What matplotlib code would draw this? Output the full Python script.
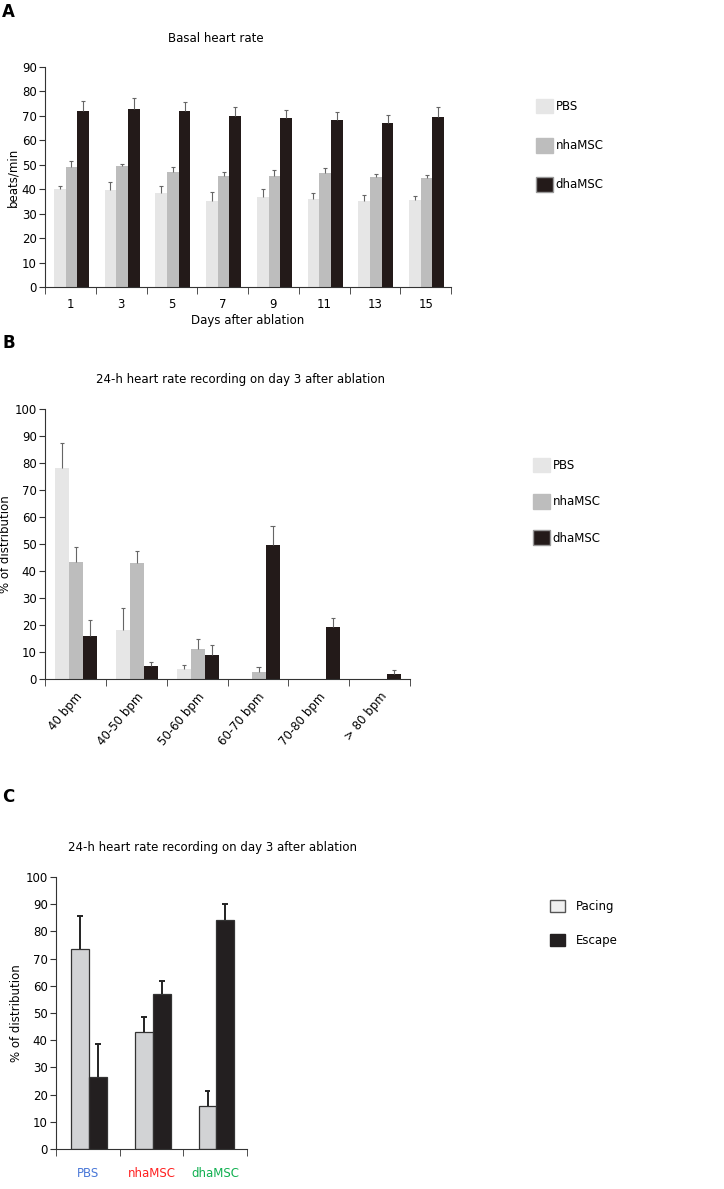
import numpy as np
import matplotlib
matplotlib.use("Agg")
import matplotlib.pyplot as plt
from matplotlib.patches import Patch

plt.rcParams['font.family'] = ['DejaVu Sans']
plt.rcParams['font.size'] = 8

# ---- data ----
days = ['1', '3', '5', '7', '9', '11', '13', '15']
a_pbs = [40, 39.7, 38.3, 35.2, 37, 35.8, 35.3, 35.5]
a_pbs_err = [1.5, 3.3, 3.2, 3.5, 3.0, 2.7, 2.5, 1.7]
a_nha = [49, 49.3, 47.2, 45.4, 45.5, 46.5, 44.8, 44.4]
a_nha_err = [2.7, 1.2, 1.8, 1.6, 2.3, 2.0, 1.6, 1.4]
a_dha = [72.2, 72.7, 72.1, 70, 69.2, 68.3, 67, 69.5]
a_dha_err = [3.8, 4.6, 3.6, 3.8, 3.4, 3.2, 3.3, 4.1]

bins = ['40 bpm', '40-50 bpm', '50-60 bpm', '60-70 bpm', '70-80 bpm', '> 80 bpm']
b_pbs = [78.1, 18.3, 3.7, 0, 0, 0]
b_pbs_err = [9.3, 8.0, 1.6, 0, 0, 0]
b_nha = [43.3, 43.0, 11.2, 2.6, 0, 0]
b_nha_err = [5.6, 4.4, 3.6, 1.8, 0, 0]
b_dha = [15.8, 4.7, 8.8, 49.5, 19.3, 1.9]
b_dha_err = [5.9, 1.6, 3.8, 7.0, 3.4, 1.3]

groups = ['PBS', 'nhaMSC', 'dhaMSC']
group_colors = ['#4a78d8', '#ff2020', '#10b050']
c_pacing = [73.4, 43.1, 15.7]
c_pacing_err = [12.4, 5.3, 5.7]
c_escape = [26.5, 56.9, 84.3]
c_escape_err = [12.2, 4.9, 5.7]

col_pbs = '#e6e6e6'
col_nha = '#bdbdbd'
col_dha = '#231a19'

W, H = 724, 1189
fig = plt.figure(figsize=(W / 100, H / 100), dpi=100)


def px_axes(x1, y1, x2, y2):
    return fig.add_axes([x1 / W, 1 - y2 / H, (x2 - x1) / W, (y2 - y1) / H])


def style_axes(ax, n, ymax, step):
    for s in ['top', 'right']:
        ax.spines[s].set_visible(False)
    for s in ['left', 'bottom']:
        ax.spines[s].set_color('#333333')
        ax.spines[s].set_linewidth(0.8)
    ax.set_xlim(-0.5, n - 0.5)
    ax.set_ylim(0, ymax)
    ax.set_yticks(np.arange(0, ymax + 1, step))
    ax.set_xticks(np.arange(n))
    ax.set_xticks(np.arange(n + 1) - 0.5, minor=True)
    ax.tick_params(axis='x', which='major', length=0, pad=8, labelsize=8.5)
    ax.tick_params(axis='x', which='minor', length=5, color='#333333', direction='out')
    ax.tick_params(axis='y', length=4, color='#333333', labelsize=8.5, pad=2)


def up_errors(ax, xs, vals, errs, color, lw, capw):
    # only the upper half of each error bar, like the original figure
    xs = np.asarray(xs, dtype=float)
    vals = np.asarray(vals, dtype=float)
    errs = np.asarray(errs, dtype=float)
    m = errs > 0
    ax.vlines(xs[m], vals[m], vals[m] + errs[m], color=color, lw=lw, zorder=3)
    ax.hlines(vals[m] + errs[m], xs[m] - capw, xs[m] + capw, color=color, lw=lw, zorder=3)


def legend_at(ax, handles, x, y, spacing):
    ax.legend(handles=handles, loc='upper left', bbox_to_anchor=(x / W, 1 - y / H),
              bbox_transform=fig.transFigure, frameon=False, borderpad=0,
              handlelength=1.45, handleheight=1.5, handletextpad=0.2,
              labelspacing=spacing, fontsize=8.5, borderaxespad=0)


# ---- panel A ----
axA = px_axes(45, 67, 451, 287)
x = np.arange(len(days))
w = 0.23
for off, vals, err, col in [(-w, a_pbs, a_pbs_err, col_pbs), (0, a_nha, a_nha_err, col_nha),
                            (w, a_dha, a_dha_err, col_dha)]:
    axA.bar(x + off + 0.02, vals, w, color=col)
    up_errors(axA, x + off + 0.02, vals, err, '#666666', 0.8, 0.04)
style_axes(axA, len(days), 90, 10)
axA.set_xticklabels(days)
axA.set_xlabel('Days after ablation', fontsize=8.5, labelpad=2)
axA.set_ylabel('beats/min', fontsize=8.5, labelpad=2)
axA.set_title('Basal heart rate', fontsize=8.5, pad=18, x=0.42)
fig.text(2 / W, 1 - 12 / H, 'A', fontsize=12, fontweight='bold', va='center')
legend_at(axA, [Patch(color=col_pbs, label='PBS'), Patch(color=col_nha, label='nhaMSC'),
                Patch(facecolor=col_dha, edgecolor='#999999', label='dhaMSC')],
          536, 99, 2.1)

# ---- panel B ----
axB = px_axes(45, 409, 410, 679)
x = np.arange(len(bins))
for off, vals, err, col in [(-w, b_pbs, b_pbs_err, col_pbs), (0, b_nha, b_nha_err, col_nha),
                            (w, b_dha, b_dha_err, col_dha)]:
    axB.bar(x + off + 0.01, vals, w, color=col)
    up_errors(axB, x + off + 0.01, vals, err, '#666666', 0.8, 0.035)
style_axes(axB, len(bins), 100, 10)
axB.set_xticklabels(bins, rotation=50, ha='right', rotation_mode='anchor')
axB.tick_params(axis='x', which='major', pad=8)
axB.set_ylabel('% of distribution', fontsize=8.5, labelpad=2)
axB.set_title('24-h heart rate recording on day 3 after ablation', fontsize=8.5,
              pad=19, x=0.535)
fig.text(2 / W, 1 - 343 / H, 'B', fontsize=12, fontweight='bold', va='center')
legend_at(axB, [Patch(color=col_pbs, label='PBS'), Patch(color=col_nha, label='nhaMSC'),
                Patch(facecolor=col_dha, edgecolor='#999999', label='dhaMSC')],
          533, 458, 1.85)

# ---- panel C ----
axC = px_axes(56, 877, 247, 1149)
x = np.arange(len(groups))
wc = 0.28
axC.bar(x - wc / 2 + 0.02, c_pacing, wc, color='#d2d3d5', edgecolor='#333333', linewidth=0.9)
up_errors(axC, x - wc / 2 + 0.02, c_pacing, c_pacing_err, '#222222', 1.4, 0.045)
axC.bar(x + wc / 2 + 0.02, c_escape, wc, color='#231f20', edgecolor='#333333', linewidth=0.9)
up_errors(axC, x + wc / 2 + 0.02, c_escape, c_escape_err, '#222222', 1.4, 0.045)
style_axes(axC, len(groups), 100, 10)
axC.set_xticklabels(groups)
axC.tick_params(axis='x', which='major', pad=13)
for lab, c in zip(axC.get_xticklabels(), group_colors):
    lab.set_color(c)
axC.set_ylabel('% of distribution', fontsize=8.5, labelpad=2)
axC.set_title('24-h heart rate recording on day 3 after ablation', fontsize=8.5,
              pad=19, x=0.82)
fig.text(2 / W, 1 - 797 / H, 'C', fontsize=12, fontweight='bold', va='center')
axC.legend(handles=[Patch(facecolor='#f0f0f0', edgecolor='#555555', label='Pacing'),
                    Patch(facecolor='#231f20', edgecolor='#231f20', label='Escape')],
           loc='upper left', bbox_to_anchor=(550 / W, 1 - 900 / H),
           bbox_transform=fig.transFigure, frameon=False, borderpad=0,
           handlelength=1.25, handleheight=1.25, handletextpad=0.9,
           labelspacing=1.75, fontsize=8.5, borderaxespad=0)

fig.savefig('out.png', dpi=100)
